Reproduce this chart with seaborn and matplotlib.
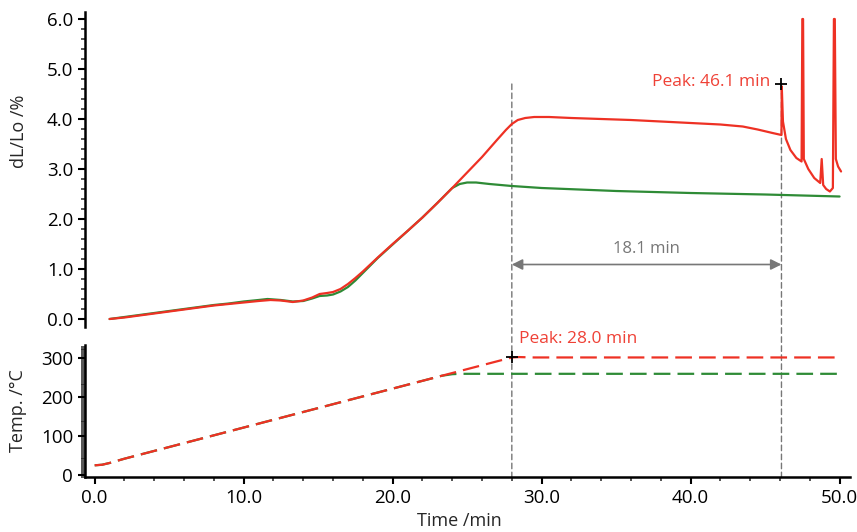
import matplotlib
matplotlib.use("Agg")
import matplotlib.pyplot as plt
from matplotlib.ticker import MultipleLocator, FormatStrFormatter
from matplotlib.patches import ConnectionPatch
import seaborn as sns

# ── Data ────────────────────────────────────────────
# dL/Lo (%) vs time (min), red sample
t_dl_red = [1.0, 2.0, 3.0, 4.0, 5.0, 6.0, 7.0, 8.0, 9.0, 10.0, 11.0, 11.8, 12.5,
            13.3, 14.0, 14.6, 15.1, 15.6, 16.0, 16.5, 17.0, 17.5, 18.0, 19.0,
            20.0, 21.0, 22.0, 23.0, 24.0, 25.0, 26.0, 27.0, 27.6, 28.0, 28.4,
            28.9, 29.5, 30.5, 32.0, 34.0, 36.0, 38.0, 40.0, 42.0, 43.5, 44.5,
            45.5, 46.1, 46.12, 46.2, 46.4, 46.7, 47.1, 47.45, 47.5, 47.55,
            47.6, 47.9, 48.3, 48.7, 48.8, 48.9, 49.1, 49.35, 49.55, 49.62,
            49.68, 49.75, 49.9, 50.1]
dl_red = [0.00, 0.03, 0.07, 0.11, 0.15, 0.19, 0.23, 0.27, 0.30, 0.33, 0.36, 0.38,
          0.37, 0.34, 0.37, 0.43, 0.50, 0.52, 0.54, 0.60, 0.70, 0.82, 0.95,
          1.23, 1.50, 1.76, 2.03, 2.32, 2.62, 2.93, 3.24, 3.58, 3.78, 3.90,
          3.98, 4.02, 4.04, 4.04, 4.02, 4.00, 3.98, 3.95, 3.92, 3.89, 3.85,
          3.79, 3.72, 3.68, 4.65, 3.95, 3.60, 3.38, 3.22, 3.15, 6.00, 6.00,
          3.20, 3.00, 2.82, 2.72, 3.20, 2.68, 2.60, 2.55, 2.62, 6.00,
          6.00, 3.20, 3.05, 2.95]

# dL/Lo (%) vs time (min), green sample
t_dl_green = [1.0, 2.0, 3.0, 4.0, 5.0, 6.0, 7.0, 8.0, 9.0, 10.0, 11.0, 11.6,
              12.5, 13.3, 14.0, 14.6, 15.1, 15.6, 16.0, 16.5, 17.0, 17.5, 18.0,
              19.0, 20.0, 21.0, 22.0, 23.0, 24.0, 24.5, 25.0, 25.6, 26.5, 28.0,
              30.0, 35.0, 40.0, 45.0, 50.0]
dl_green = [0.00, 0.04, 0.08, 0.12, 0.16, 0.20, 0.24, 0.28, 0.31, 0.35, 0.38,
            0.40, 0.38, 0.35, 0.36, 0.41, 0.46, 0.47, 0.49, 0.55, 0.64, 0.77,
            0.92, 1.22, 1.49, 1.76, 2.03, 2.32, 2.62, 2.70, 2.73, 2.73, 2.70,
            2.66, 2.62, 2.56, 2.52, 2.49, 2.45]

# Temperature (°C) vs time (min)
t_temp_red = [0.0, 0.5, 1.0, 1.5, 2.0, 3.0, 5.0, 10.0, 15.0, 20.0, 23.5, 25.0,
              27.0, 27.6, 28.0, 28.5, 29.5, 35.0, 40.0, 45.0, 50.0]
temp_red = [25, 26.5, 31, 36.5, 42, 52, 72, 122, 172, 222, 257, 272, 292,
            298, 302, 303, 302, 302, 302, 302, 302]

t_temp_green = [0.0, 0.5, 1.0, 1.5, 2.0, 3.0, 5.0, 10.0, 15.0, 20.0, 23.3,
                24.0, 24.5, 25.0, 30.0, 40.0, 50.0]
temp_green = [25, 26.5, 31, 36.5, 42, 52, 72, 122, 172, 222, 255, 259, 260,
              260, 260, 260, 260]

# Peak markers
peak_dl = (46.1, 4.71)
peak_temp = (28.0, 302)
peak_labels = ["Peak: 46.1 min", "Peak: 28.0 min"]
gap_label = "18.1 min"

RED = "#EE3124"
RED_TXT = "#EF4136"
GREEN = "#2E8B36"
GRAY = "#777777"

sns.set_style("ticks")
plt.rcParams["font.family"] = ["Open Sans", "DejaVu Sans"]

fig = plt.figure(figsize=(8.57, 5.32), dpi=100)
ax_top = fig.add_axes([85 / 857, 205 / 532, 765 / 857, 315 / 532])
ax_bot = fig.add_axes([85 / 857, 55 / 532, 765 / 857, 132 / 532])

# ── Top panel: dL/Lo ──────────────────────────────
sns.lineplot(x=t_dl_green, y=dl_green, ax=ax_top, color=GREEN, lw=1.6,
             sort=False, estimator=None)
sns.lineplot(x=t_dl_red, y=dl_red, ax=ax_top, color=RED, lw=1.6,
             sort=False, estimator=None)

ax_top.set_xlim(-0.65, 50.7)
ax_top.set_ylim(-0.16, 6.14)
ax_top.yaxis.set_major_locator(MultipleLocator(1.0))
ax_top.yaxis.set_minor_locator(MultipleLocator(0.2))
ax_top.yaxis.set_major_formatter(FormatStrFormatter("%.1f"))
ax_top.set_xticks([])
for s in ["top", "right", "bottom"]:
    ax_top.spines[s].set_visible(False)
ax_top.set_ylabel("dL/Lo /%", fontsize=13)
ax_top.yaxis.set_label_coords(-0.074, 0.62)

# ── Bottom panel: temperature ─────────────────────
sns.lineplot(x=t_temp_green, y=temp_green, ax=ax_bot, color=GREEN, lw=1.6,
             ls=(0, (7.5, 3.2)), sort=False, estimator=None)
sns.lineplot(x=t_temp_red, y=temp_red, ax=ax_bot, color=RED, lw=1.6,
             ls=(0, (7.5, 3.2)), sort=False, estimator=None)

ax_bot.set_xlim(-0.65, 50.7)
ax_bot.set_ylim(-5, 334)
ax_bot.xaxis.set_major_locator(MultipleLocator(10))
ax_bot.xaxis.set_minor_locator(MultipleLocator(2))
ax_bot.xaxis.set_major_formatter(FormatStrFormatter("%.1f"))
ax_bot.yaxis.set_major_locator(MultipleLocator(100))
ax_bot.yaxis.set_minor_locator(MultipleLocator(5))
for s in ["top", "right"]:
    ax_bot.spines[s].set_visible(False)
ax_bot.set_ylabel("Temp. /°C", fontsize=13)
ax_bot.yaxis.set_label_coords(-0.076, 0.5)
ax_bot.set_xlabel("Time /min", fontsize=13)
ax_bot.xaxis.set_label_coords(0.49, -0.265)

for ax in (ax_top, ax_bot):
    ax.patch.set_visible(False)
    for s in ["left", "bottom"]:
        ax.spines[s].set_linewidth(1.8)
        ax.spines[s].set_color("black")
    ax.tick_params(which="major", length=5, width=1.5, labelsize=13.5,
                   colors="black", direction="out")
    ax.tick_params(which="minor", length=3, width=1.1, direction="out")

# ── Peak markers and labels ───────────────────────
ax_top.plot(*peak_dl, marker="+", color="black", ms=9, mew=1.3, zorder=5)
ax_top.annotate(peak_labels[0], xy=peak_dl, xytext=(-8, 1),
                textcoords="offset points", ha="right", va="center",
                color=RED_TXT, fontsize=12.5)

ax_bot.plot(*peak_temp, marker="+", color="black", ms=9, mew=1.3, zorder=5)
ax_bot.annotate(peak_labels[1], xy=peak_temp, xytext=(5, 13),
                textcoords="offset points", ha="left", va="center",
                color=RED_TXT, fontsize=12.5, annotation_clip=False)

# ── Vertical guide lines through both panels ──────
for tx in (peak_temp[0], peak_dl[0]):
    con = ConnectionPatch(xyA=(tx, 4.7), coordsA="data", axesA=ax_top,
                          xyB=(tx, -5), coordsB="data", axesB=ax_bot,
                          color=GRAY, lw=1.0, ls=(0, (4, 2.5)), zorder=0)
    fig.add_artist(con)

# ── Time gap arrow ────────────────────────────────
ax_top.annotate("", xy=(peak_temp[0], 1.09), xytext=(peak_dl[0], 1.09),
                arrowprops=dict(arrowstyle="<|-|>", color=GRAY, lw=1.2,
                                mutation_scale=16, shrinkA=0, shrinkB=0))
ax_top.text((peak_temp[0] + peak_dl[0]) / 2, 1.40, gap_label, ha="center",
            va="center", color=GRAY, fontsize=12)

fig.savefig("out.png", dpi=100)
